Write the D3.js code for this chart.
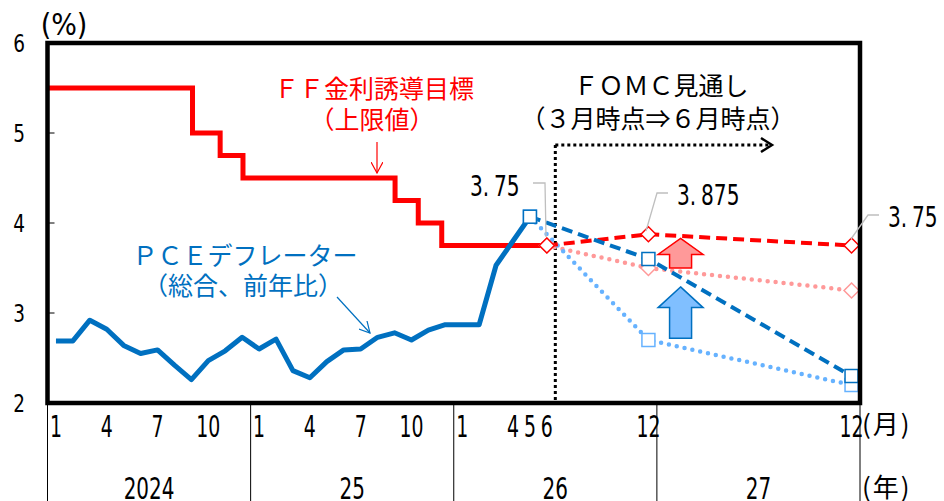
<!DOCTYPE html>
<html>
<head>
<meta charset="utf-8">
<script src="https://cdn.jsdelivr.net/npm/d3@7"></script>
<style>
  body { margin: 0; background: #fff; }
  svg text { font-family: "DejaVu Sans Condensed", "DejaVu Sans", sans-serif; }
  .jp { font-family: "Noto Sans CJK JP", sans-serif; }
</style>
</head>
<body>
<div id="chart"></div>
<script>
// ---- data ----
var yearLabels = ["2024", "25", "26", "27"];
var tickMonths = [0, 3, 6, 9, 12, 15, 18, 21, 24, 27, 28, 29, 35, 47];
var tickLabels = ["1", "4", "7", "10", "1", "4", "7", "10", "1", "4", "5", "6", "12", "12"];

// PCE deflator (y/y), Jan 2024 .. May 2026
var pceValues = [2.69, 2.69, 2.92, 2.82, 2.64, 2.55, 2.59, 2.42, 2.26, 2.47, 2.58, 2.73,
                 2.60, 2.71, 2.36, 2.28, 2.46, 2.59, 2.60, 2.73, 2.78, 2.70, 2.81, 2.87,
                 2.87, 2.87, 3.53, 3.80, 4.07];

// FF target upper bound, change dates
var ffDates = ["2024-01-01", "2024-09-18", "2024-11-07", "2024-12-18", "2025-09-17", "2025-10-29", "2025-12-10"];
var ffRates = [5.5, 5.0, 4.75, 4.5, 4.25, 4.0, 3.75];
var ffEndMonth = 29; // Jun 2026

// FOMC projections (month index from Jan 2024)
var pceProjMonths = [28, 35, 47];
var pceMar = [4.07, 2.7, 2.2];
var pceJun = [4.07, 3.6, 2.3];
var ffProjMonths = [29, 35, 47];
var ffMar = [3.75, 3.5, 3.25];
var ffJun = [3.75, 3.875, 3.75];

var w = 944, h = 501;
var RED = "#ff0000", PINK = "#ff9999", BLUE = "#0070c0", LBLUE = "#66b2ff";

var svg = d3.select("#chart").append("svg")
    .attr("width", w).attr("height", h);

var x = d3.scaleLinear().domain([0, 48]).range([47.5, 860]);
var y = d3.scaleLinear().domain([2, 6]).range([403, 43]);
function xc(i) { return x(i + 0.5); }

function monthPos(s) {
    var p = s.split("-").map(Number);
    var days = new Date(p[0], p[1], 0).getDate();
    return (p[0] - 2024) * 12 + (p[1] - 1) + (p[2] - 1) / days;
}

// narrow digits: squeeze horizontally around the anchor point
function placeNarrow(sel, fx, fy, sx) {
    sel.attr("transform", function(d, i) {
        return "translate(" + fx(d, i) + "," + fy(d, i) + ") scale(" + sx + ",1)";
    });
}

// y ticks (inside)
svg.selectAll(".ytick").data(d3.range(2, 7))
  .enter().append("line")
    .attr("x1", x(0)).attr("x2", x(0) + 7)
    .attr("y1", function(d) { return y(d); })
    .attr("y2", function(d) { return y(d); })
    .attr("stroke", "#000").attr("stroke-width", 1);

var ylab = svg.selectAll(".ylab").data(d3.range(2, 7))
  .enter().append("text")
    .attr("dy", "0.36em")
    .attr("text-anchor", "middle")
    .attr("font-size", 25)
    .text(function(d) { return d; });
placeNarrow(ylab, function() { return 19; }, function(d) { return y(d); }, 0.82);

svg.append("text").attr("x", 64).attr("y", 35)
    .attr("text-anchor", "middle").attr("font-size", 30)
    .text("(%)");

// year dividers below axis
svg.selectAll(".ydiv").data(d3.range(0, 5))
  .enter().append("line")
    .attr("x1", function(d) { return x(d * 12); })
    .attr("x2", function(d) { return x(d * 12); })
    .attr("y1", y(2)).attr("y2", h)
    .attr("stroke", "#000").attr("stroke-width", 1);

var mlab = svg.selectAll(".mlab").data(tickMonths)
  .enter().append("text")
    .attr("text-anchor", "middle")
    .attr("font-size", 30)
    .text(function(d, i) { return tickLabels[i]; });
placeNarrow(mlab, function(d) { return xc(d); }, function() { return 437; }, 0.7);

var yrlab = svg.selectAll(".yrlab").data(yearLabels)
  .enter().append("text")
    .attr("text-anchor", "middle")
    .attr("font-size", 30)
    .text(function(d) { return d; });
placeNarrow(yrlab, function(d, i) { return x(i * 12 + 6); }, function() { return 499; }, 0.74);

svg.append("text").attr("class", "jp").attr("x", 862).attr("y", 434)
    .attr("font-size", 26).attr("letter-spacing", 2).text("(月)");
svg.append("text").attr("class", "jp").attr("x", 862).attr("y", 497)
    .attr("font-size", 26).attr("letter-spacing", 2).text("(年)");

// FOMC divider (end of Jun 2026) and arrow
var divX = x(30);
svg.append("line")
    .attr("x1", divX).attr("x2", divX).attr("y1", 145).attr("y2", y(2))
    .attr("stroke", "#000").attr("stroke-width", 3).attr("stroke-dasharray", "3,3");
svg.append("line")
    .attr("x1", divX).attr("x2", 771).attr("y1", 145).attr("y2", 145)
    .attr("stroke", "#000").attr("stroke-width", 3).attr("stroke-dasharray", "3,3");
svg.append("path")
    .attr("d", "M761,138 L772,145 L761,152")
    .attr("fill", "none").attr("stroke", "#000").attr("stroke-width", 2.5);

// FF step line
var ffPts = [];
ffDates.forEach(function(d, i) {
    var m = monthPos(d);
    if (i > 0) ffPts.push([m, ffRates[i - 1]]);
    ffPts.push([m, ffRates[i]]);
});
ffPts.push([ffEndMonth + 0.5, ffRates[ffRates.length - 1]]);

var line = d3.line()
    .x(function(d) { return x(d[0]); })
    .y(function(d) { return y(d[1]); });

svg.append("path").datum(ffPts)
    .attr("d", line)
    .attr("fill", "none").attr("stroke", RED).attr("stroke-width", 5)
    .attr("stroke-linejoin", "miter");

// PCE line
var pcePts = pceValues.map(function(v, i) { return [i + 0.5, v]; });
svg.append("path").datum(pcePts)
    .attr("d", line)
    .attr("fill", "none").attr("stroke", BLUE).attr("stroke-width", 5)
    .attr("stroke-linejoin", "round");

// projections
function projLine(months, vals, color, dash, width, cap) {
    var pts = months.map(function(m, i) { return [m + 0.5, vals[i]]; });
    svg.append("path").datum(pts)
        .attr("d", line)
        .attr("fill", "none").attr("stroke", color)
        .attr("stroke-width", width)
        .attr("stroke-dasharray", dash)
        .attr("stroke-linecap", cap);
}
projLine(ffProjMonths, ffMar, PINK, "0,8", 4.5, "round");
projLine(pceProjMonths, pceMar, LBLUE, "0,8", 4.5, "round");
projLine(ffProjMonths, ffJun, RED, "11,6", 4, "butt");
projLine(pceProjMonths, pceJun, BLUE, "11,6", 4, "butt");

function diamonds(months, vals, color) {
    svg.selectAll(null).data(months).enter().append("path")
        .attr("d", "M0,-7.5 L7.5,0 L0,7.5 L-7.5,0 Z")
        .attr("transform", function(d, i) { return "translate(" + xc(d) + "," + y(vals[i]) + ")"; })
        .attr("fill", "#fff").attr("stroke", color).attr("stroke-width", 1.5);
}
function squares(months, vals, color) {
    svg.selectAll(null).data(months).enter().append("rect")
        .attr("x", function(d) { return xc(d) - 6.5; })
        .attr("y", function(d, i) { return y(vals[i]) - 6.5; })
        .attr("width", 13).attr("height", 13)
        .attr("fill", "#fff").attr("stroke", color).attr("stroke-width", 1.5);
}
diamonds(ffProjMonths, ffMar, PINK);
squares(pceProjMonths, pceMar, LBLUE);
diamonds(ffProjMonths, ffJun, RED);
squares(pceProjMonths, pceJun, BLUE);

// block arrows (revision direction)
function blockArrow(m, tip, neck, bottom, fill, stroke) {
    var cx = x(m), ty = y(tip), ny = y(neck), by = y(bottom);
    var hw = 22.5, sw = 11;
    var d = "M" + cx + "," + ty + " L" + (cx + hw) + "," + ny + " L" + (cx + sw) + "," + ny +
            " L" + (cx + sw) + "," + by + " L" + (cx - sw) + "," + by + " L" + (cx - sw) + "," + ny +
            " L" + (cx - hw) + "," + ny + " Z";
    svg.append("path").attr("d", d).attr("fill", fill)
        .attr("stroke", stroke).attr("stroke-width", 1.5);
}
blockArrow(37.4, 3.83, 3.65, 3.5, PINK, RED);
blockArrow(37.4, 3.29, 3.06, 2.72, "#80bfff", BLUE);

// frame
svg.append("rect")
    .attr("x", x(0)).attr("y", y(6))
    .attr("width", x(48) - x(0)).attr("height", y(2) - y(6))
    .attr("fill", "none").attr("stroke", "#000").attr("stroke-width", 4.5);

// value labels with leader lines
function valueLabel(txt, tx, ty, path) {
    svg.append("path").attr("d", path)
        .attr("fill", "none").attr("stroke", "#bfbfbf").attr("stroke-width", 1.3);
    var parts = txt.split(".");
    var t = svg.append("text")
        .attr("transform", "translate(" + tx + "," + ty + ") scale(0.8,1)")
        .attr("font-size", 28);
    t.append("tspan").text(parts[0] + ".");
    t.append("tspan").attr("dx", 6).text(parts[1]);
}
valueLabel("3.75", 470, 196, "M533,183 L545,183 L546,237");
valueLabel("3.875", 677, 205, "M668,193 L657,193 L646,231");
valueLabel("3.75", 888, 227, "M879,215 L868,215 L851,239");

// annotations
svg.append("defs").selectAll("marker")
    .data([["arRed", RED], ["arBlue", BLUE]])
  .enter().append("marker")
    .attr("id", function(d) { return d[0]; })
    .attr("viewBox", "0 0 12 12").attr("refX", 11).attr("refY", 6)
    .attr("markerWidth", 12).attr("markerHeight", 12)
    .attr("markerUnits", "userSpaceOnUse")
    .attr("orient", "auto")
  .append("path")
    .attr("d", "M0,0 L11,6 L0,12")
    .attr("fill", "none")
    .attr("stroke", function(d) { return d[1]; })
    .attr("stroke-width", 1.2);

svg.append("line").attr("x1", 377).attr("y1", 142).attr("x2", 377).attr("y2", 173)
    .attr("stroke", RED).attr("stroke-width", 1.2).attr("marker-end", "url(#arRed)");
svg.append("line").attr("x1", 337).attr("y1", 297).attr("x2", 370).attr("y2", 333)
    .attr("stroke", BLUE).attr("stroke-width", 1.2).attr("marker-end", "url(#arBlue)");

function jpText(txt, cx, by, color) {
    svg.append("text").attr("class", "jp")
        .attr("x", cx).attr("y", by)
        .attr("text-anchor", "middle")
        .attr("font-size", 25)
        .attr("fill", color)
        .text(txt);
}
jpText("ＦＦ金利誘導目標", 374, 98, RED);
jpText("（上限値）", 372, 129, RED);
jpText("ＰＣＥデフレーター", 245, 265, BLUE);
jpText("（総合、前年比）", 243, 295, BLUE);
jpText("ＦＯＭＣ見通し", 661, 95, "#000");
jpText("（３月時点⇒６月時点）", 658, 128, "#000");
</script>
</body>
</html>
